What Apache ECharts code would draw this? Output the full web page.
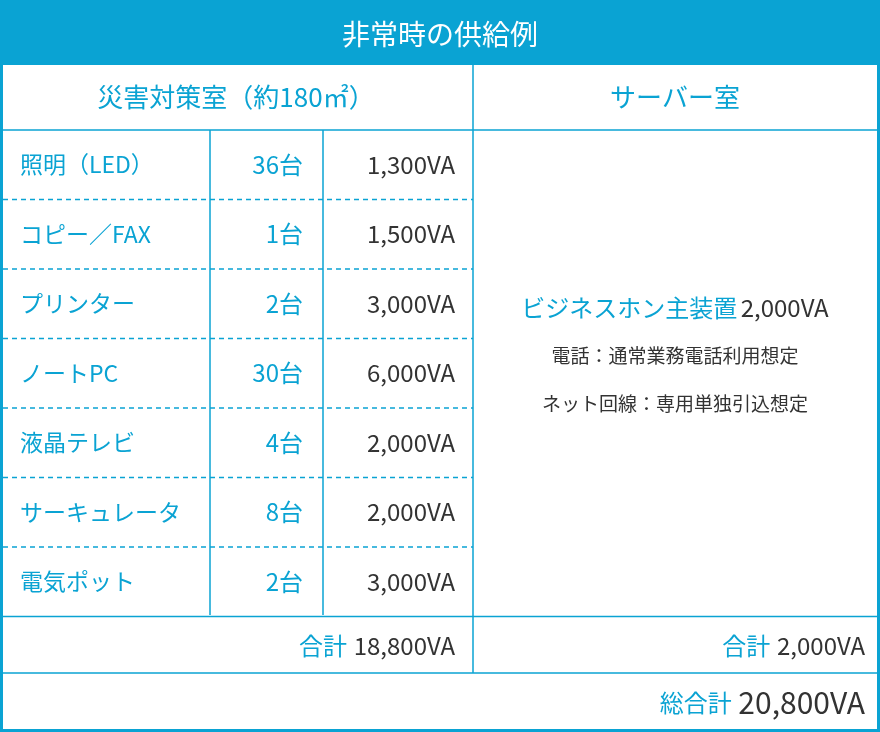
<!DOCTYPE html>
<html><head><meta charset="utf-8">
<script src="https://cdn.jsdelivr.net/npm/echarts@6/dist/echarts.min.js"></script>
<style>html,body{margin:0;padding:0;background:#fff}#c{width:880px;height:732px}</style>
</head><body><div id="c"></div>
<script>
const title = '非常時の供給例';
const leftHeader = '災害対策室（約180㎡）';
const rightHeader = 'サーバー室';
const items = ['照明（LED）','コピー／FAX','プリンター','ノートPC','液晶テレビ','サーキュレータ','電気ポット'];
const counts = ['36台','1台','2台','30台','4台','8台','2台'];
const watts = ['1,300VA','1,500VA','3,000VA','6,000VA','2,000VA','2,000VA','3,000VA'];
const serverMain = 'ビジネスホン主装置';
const serverWatt = '2,000VA';
const serverNotes = ['電話：通常業務電話利用想定','ネット回線：専用単独引込想定'];
const leftTotal = '18,800VA', rightTotal = '2,000VA', grandTotal = '20,800VA';

const B = '#0aa3d3', T = '#333', F = '"Noto Sans CJK JP", sans-serif';
const X = [3, 210, 323, 473, 877];
const rowTop = 130, rowH = 69.5;
const g = [];
function rect(x,y,w,h,fill){g.push({type:'rect',shape:{x,y,width:w,height:h},style:{fill}});}
function line(x1,y1,x2,y2,dash){g.push({type:'line',shape:{x1,y1,x2,y2},style:{stroke:B,lineWidth:1.5,lineDash:dash?[5,4]:null}});}
function text(x,y,s,fill,size,align){g.push({type:'text',x,y,style:{text:s,fill,font:size+'px '+F,textAlign:align||'left',textVerticalAlign:'middle'}});}
function rich(x,y,s,sa,sb,align){g.push({type:'text',x,y,style:{text:s,textAlign:align,textVerticalAlign:'middle',
  rich:{a:{fill:B,font:sa+'px '+F},b:{fill:T,font:sb+'px '+F}}}});}

rect(0,0,880,732,B);
rect(3,65,874,664,'#fff');
text(440,34,title,'#fff',28,'center');
text(236,97,leftHeader,B,26,'center');
text(675,97,rightHeader,B,26,'center');
line(3,130,877,130);
line(473,65,473,673);
line(X[1],130,X[1],615);
line(X[2],130,X[2],615);
items.forEach((it,i)=>{
  const yc = rowTop + rowH*(i+0.5);
  text(20,yc,it,B,23);
  text(303,yc,counts[i],B,24,'right');
  text(455,yc,watts[i],T,24,'right');
  if(i<items.length-1) line(3,rowTop+rowH*(i+1),473,rowTop+rowH*(i+1),true);
});
const yEnd = rowTop + rowH*items.length;
line(3,yEnd,877,yEnd);
rich(675,308,'{a|'+serverMain+'} {b|'+serverWatt+'}',24,24,'center');
text(675,356,serverNotes[0],T,19,'center');
text(675,404,serverNotes[1],T,19,'center');
rich(455,646,'{a|合計}  {b|'+leftTotal+'}',24,24,'right');
rich(865,646,'{a|合計}  {b|'+rightTotal+'}',24,24,'right');
line(3,673,877,673);
rich(865,703,'{a|総合計}  {b|'+grandTotal+'}',24,30,'right');

const chart = echarts.init(document.getElementById('c'));
chart.setOption({animation:false,graphic:g});
</script></body></html>
